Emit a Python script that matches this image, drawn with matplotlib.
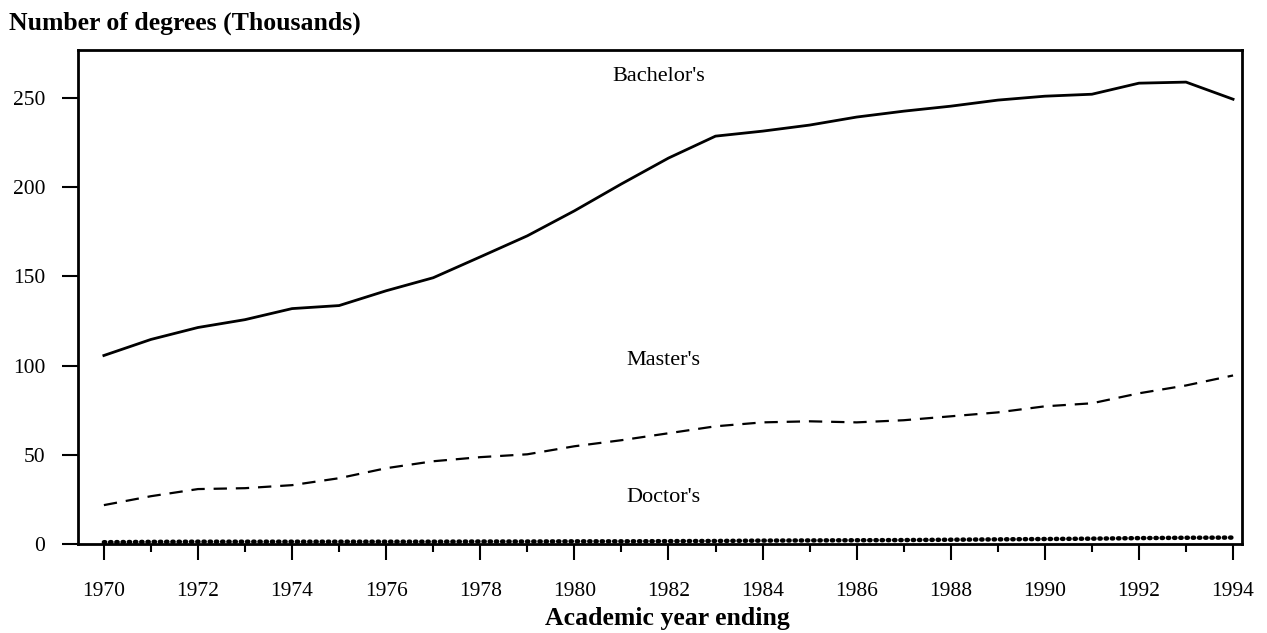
import matplotlib.pyplot as plt
from matplotlib.ticker import MultipleLocator

plt.rcParams['font.family'] = ['Liberation Serif', 'DejaVu Serif']

years = list(range(1970, 1995))
bachelors = [105.7, 114.7, 121.4, 125.8, 132.0, 133.7, 142.0, 149.3, 161.0, 172.8,
             186.8, 201.9, 216.4, 228.7, 231.5, 234.9, 239.4, 242.7, 245.5, 248.9,
             251.1, 252.2, 258.4, 259.0, 249.4]
masters = [21.8, 26.8, 30.8, 31.3, 33.0, 36.9, 42.5, 46.4, 48.7, 50.3,
           54.8, 58.2, 62.1, 66.0, 68.2, 68.8, 68.2, 69.4, 71.6, 73.8,
           77.2, 78.9, 84.5, 88.9, 94.5]
doctors = [1.0, 1.2, 1.3, 1.3, 1.3, 1.3, 1.3, 1.3, 1.4, 1.4,
           1.5, 1.5, 1.6, 1.7, 1.9, 2.0, 2.1, 2.2, 2.4, 2.6,
           2.8, 3.0, 3.3, 3.5, 3.6]
year_labels = [str(y) for y in range(1970, 1995, 2)]

fig = plt.figure(figsize=(12.67, 6.33), dpi=100)
# axes box: left 78px, right 1242px, top 50px, bottom 544px
ax = fig.add_axes([78 / 1267, 1 - 544 / 633, 1164 / 1267, 494 / 633])

ax.plot(years, bachelors, color='black', lw=2)
ax.plot(years, masters, color='black', lw=1.6, linestyle=(0, (6, 4)))
ax.plot(years, doctors, color='black', lw=3.2, linestyle=(0, (0.3, 1.1)),
        dash_capstyle='round')

ax.text(1981.8, 262, "Bachelor's", ha='center', va='center', fontsize=16)
ax.text(1981.9, 103, "Master's", ha='center', va='center', fontsize=16)
ax.text(1981.9, 26, "Doctor's", ha='center', va='center', fontsize=16)

ax.set_xlim(1969.45, 1994.19)
ax.set_ylim(0, 277)
ax.set_yticks([0, 50, 100, 150, 200, 250])
ax.set_xticks(range(1970, 1995, 2))
ax.set_xticklabels(year_labels)
ax.xaxis.set_minor_locator(MultipleLocator(1))

ax.tick_params(axis='y', length=11.5, width=1.5, pad=12, labelsize=15.5)
ax.tick_params(axis='x', which='major', length=11.5, width=1.5, pad=16, labelsize=15.5)
ax.tick_params(axis='x', which='minor', length=6, width=1.5)
for s in ax.spines.values():
    s.set_linewidth(2)

fig.text(9 / 1267, 1 - 30 / 633, "Number of degrees (Thousands)", fontsize=18.5,
         fontweight='bold', ha='left', va='baseline')
fig.text(667 / 1267, 1 - 625 / 633, "Academic year ending", fontsize=18.5,
         fontweight='bold', ha='center', va='baseline')

fig.savefig('out.png', dpi=100)
